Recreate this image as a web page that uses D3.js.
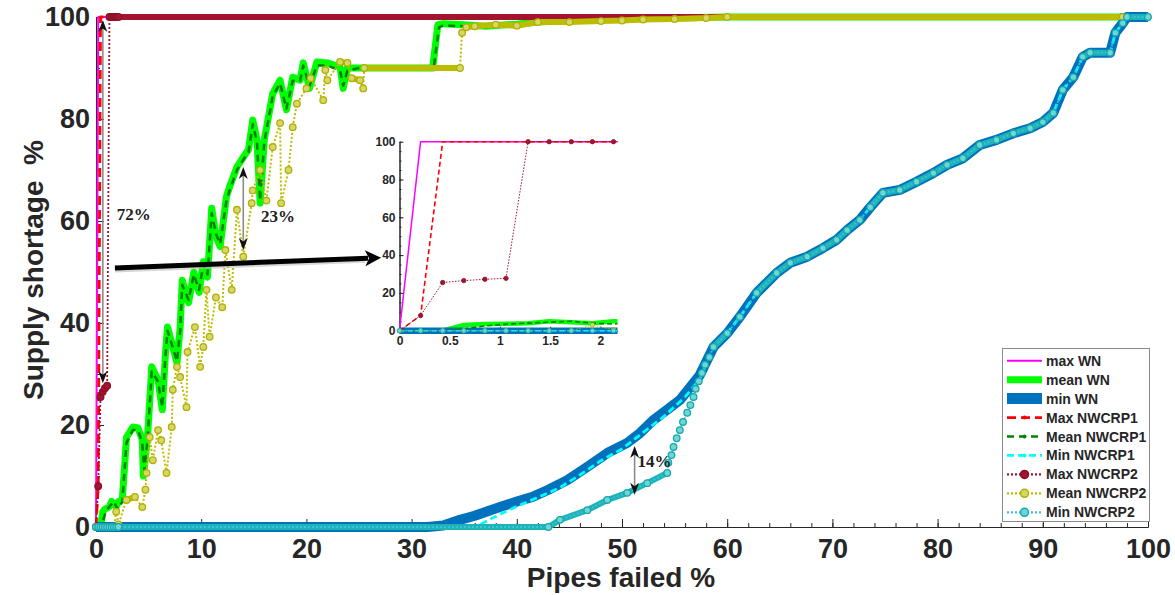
<!DOCTYPE html>
<html>
<head>
<meta charset="utf-8">
<script src="https://cdn.jsdelivr.net/npm/d3@7"></script>
<style>
  body { margin: 0; background: #fff; }
  svg text { font-family: Arial, "Liberation Sans", sans-serif; }
  svg text.note { font-family: "Liberation Serif", "Times New Roman", serif; }
</style>
</head>
<body>
<svg id="chart"></svg>
<script>
const width = 1175, height = 595;

// ---- data: [pipes failed %, supply shortage %] ----
const maxWN = [[0,0],[0.21,100],[97.6,100]];

const meanWN = [[0,0],[0.21,0],[0.43,0],[0.64,3],[0.85,3.5],[1.06,3.7],[1.28,4],[1.49,5],[1.71,4.5],[1.92,4],[2.13,5],
  [2.5,5.3],[2.9,17.6],[3.5,19.6],[4.0,19.4],[4.4,17.1],[4.5,10],[4.9,17.6],[5.3,31.4],[5.9,28.8],[6.3,23],[6.6,34],
  [6.8,39.2],[7.7,32.2],[8.0,39.2],[8.2,48.4],[8.8,44],[9.3,50],[9.8,46],[10.2,52],[10.6,49],[11.0,62.5],[11.4,57],
  [11.8,55],[12.4,64.8],[12.7,66.7],[13.4,70.6],[14.0,72.5],[14.5,74],[14.9,79.8],[15.3,75.9],[15.6,63.5],[16.0,76],
  [16.8,85],[17.5,87.6],[18.1,81.8],[18.7,88.2],[19.4,87.6],[19.7,91],[20.3,86],[21.0,91.2],[22.0,91],[23.2,90.2],
  [23.5,86],[23.9,90],[25.0,90],[32.0,90],[32.5,98.5],[33.0,98.7],[35.0,98.5],[37.0,98.2],[40.0,98.6],[42.0,99],
  [45.0,99.3],[50.0,99.6],[55.0,99.8],[60.0,100],[97.6,100]];

const minTail = [[58.7,35.3],[60,38],[61.2,41.2],[62.8,45.9],[64.7,49.8],[66,51.8],[67.6,53],[69.1,54.7],[70.4,56.3],
  [71.4,58.2],[72.6,60.2],[73.6,62.7],[74.8,65.5],[76.4,66.1],[78,67.7],[79.6,69.4],[80.9,71],[82.4,72.3],[84,74.9],
  [85.6,75.9],[87.2,77.2],[88.8,78.2],[90,79.4],[91,81.2],[91.9,85.7],[92.9,88.2],[93.8,92.2],[94.5,93],[96.4,93],
  [96.9,96.9],[97.6,98.8],[98,100],[100,100]];

const minWNHead = [[0,0],[31.5,0],[33,0.3],[34.6,1.4],[36,2.2],[37.5,3.3],[38.4,3.9],[40,5],[41.5,5.9],[43,7.3],
  [44.8,9.2],[46.7,11.8],[48.6,14.5],[50.5,16.5],[51.7,18.4],[53,21],[54.6,23.5],[55.5,24.9],[57.4,29.8]];

const maxN1 = [[0,0],[0.21,8],[0.43,100],[97.6,100]];

const meanN1 = [[0,0],[0.21,0],[0.43,0],[0.64,1],[0.85,2.5],[1.06,3.5],[1.28,4],[1.49,4.5],[1.71,5],[1.92,4],[2.13,3.5],
  [2.5,5],[2.9,16.5],[3.5,19],[4.0,19],[4.4,16.5],[4.6,11],[4.9,17],[5.3,30.5],[5.9,28.5],[6.3,23.5],[6.6,33.5],
  [6.8,38.5],[7.7,32.5],[8.0,38.5],[8.2,47.5],[8.8,44.5],[9.3,49.5],[9.8,46.5],[10.2,51.5],[10.6,49.5],[11.0,61.5],
  [11.4,57.5],[11.8,55.5],[12.4,64],[12.7,66],[13.4,70],[14.0,72],[14.5,73.5],[14.9,79],[15.3,75.5],[15.6,64],
  [16.0,75.5],[16.8,84.5],[17.5,87],[18.1,82],[18.7,87.5],[19.4,87.5],[19.7,90.5],[20.3,86.5],[21.0,90.5],[22.0,90.5],
  [23.2,89.5],[23.5,86.5],[23.9,89.5],[25.0,90],[32.1,90],[32.6,98],[33.0,98.3],[35.0,98.2],[37.0,98],[40.0,98.4],
  [42.0,98.8],[45.0,99.2],[50.0,99.5],[55.0,99.7],[60.0,100],[97.6,100]];

const minN1Head = [[0,0],[35.5,0],[36.5,0.5],[38.4,2.5],[40.3,4.3],[42,5.8],[44,7.6],[46,10.2],[48,13],[50,15.3],
  [52,18.5],[54,21.7],[56,25.5],[57.4,29]];

const maxN2 = [[0,0],[0.21,8],[0.43,25.5],[0.64,26.5],[0.85,27.2],[1.06,27.7],[1.28,100],[1.49,100],[1.71,100],
  [1.92,100],[2.13,100],[97.6,100]];

const meanN2 = [[0,0],[0.21,0],[0.43,0],[0.64,0],[0.85,0],[1.06,0],[1.28,0],[1.49,0],[1.71,0],[1.92,3],[2.13,0.5],
  [2.9,5.3],[3.7,5.9],[4.4,3.9],[4.7,7.3],[4.8,10.6],[5.1,17.6],[5.4,13.1],[5.9,19],[6.2,17],[6.7,10.6],[7.2,19.6],
  [7.3,26.9],[7.7,31.4],[8.0,29.4],[8.6,23.5],[8.7,34.3],[9.4,39.2],[9.9,31.4],[10.2,35.3],[10.5,46.5],[10.8,37.3],
  [11.4,45],[12.0,43.1],[12.3,54.3],[12.9,46.5],[13.4,62.2],[14.0,53],[14.8,63.5],[14.9,66],[15.6,70],[16.2,64],
  [16.8,74.5],[17.5,79.2],[17.6,63.5],[18.3,70],[18.7,78.4],[19.1,83],[20.0,86],[20.4,88],[21.6,83.7],[21.8,89.6],
  [22.0,87.6],[23.2,91.2],[23.9,91],[24.3,88],[25.1,87.6],[25.4,86],[25.5,90],[34.6,90],[34.8,96.9],[35.2,98],
  [36,98.2],[38,98.5],[40,98.3],[42,99],[45,99],[48,99.2],[50,99.3],[52,99.5],[55,99.6],[58,99.8],[60,100],[97.6,100]];

const minN2Head = [[0,0],[0.21,0],[0.43,0],[0.64,0],[0.85,0],[1.06,0],[1.28,0],[1.49,0],[1.71,0],[1.92,0],[2.13,0],
  [43.0,0],[44.1,1.4],[46.7,3.3],[48.6,5.3],[50.5,6.7],[52.4,8.6],[54.3,10.6],[54.4,12.6],[54.7,14.1],[54.9,15.7],
  [55.2,17.4],[55.5,19],[55.8,20.6],[56.2,22.4],[56.5,23.9],[56.8,25.5],[57.0,27.1],[57.3,28.6],[57.6,30.2],
  [57.9,31.8],[58.3,33.3]];

const seriesNames = ["max WN", "mean WN", "min WN", "Max NWCRP1", "Mean NWCRP1", "Min NWCRP1",
  "Max NWCRP2", "Mean NWCRP2", "Min NWCRP2"];
const seriesData = [maxWN, meanWN, minWNHead.concat(minTail), maxN1, meanN1, minN1Head.concat(minTail),
  maxN2, meanN2, minN2Head.concat(minTail)];

const xTicks = d3.range(0, 101, 10);
const xMinorTicks = d3.range(0, 101, 2);
const yTicks = [0, 20, 40, 60, 80, 100];
const yMinorTicks = d3.range(0, 101, 10);
const insetXTicks = [0, 0.5, 1, 1.5, 2];
const insetYTicks = [0, 20, 40, 60, 80, 100];
const insetYMinorTicks = d3.range(0, 101, 5);

// double arrows with their labels (data coords)
const annotations = [
  { label: "72%", x: 0.65, top: 99.4, bottom: 28.2, tx: 3.6, ty: 61.4 },
  { label: "23%", x: 14.0, top: 70.6, bottom: 54.3, tx: 17.3, ty: 61 },
  { label: "14%", x: 51.2, top: 15.9, bottom: 6.3, tx: 53.1, ty: 12.9 }
];
const bigArrow = { from: [1.8, 50.8], to: [27.1, 52.8] };

// ---- styles ----
const styles = [
  { color: "#ff00ff", w: 2, iw: 1.5 },
  { color: "#00ff00", w: 7, iw: 4.5 },
  { color: "#0072bd", w: 10, iw: 6.5, lw: 11 },
  { color: "#ff0000", w: 2.8, iw: 1.6, dash: "9,5", idash: "5,3" },
  { color: "#008000", w: 2.5, iw: 1.6, dash: "7,5", idash: "5,3" },
  { color: "#00ffff", w: 2.8, iw: 1.6, dash: "7,4", idash: "5,3" },
  { color: "#a2142f", w: 1.8, iw: 1, dash: "2,2", idash: "1.5,1.5", band: "#a2142f", mfill: "#a2142f", mstroke: "#8a1028" },
  { color: "#bdbd00", w: 2, iw: 1, dash: "2,2", idash: "1.5,1.5", band: "#bdbd00", mfill: "#d6d66a", mstroke: "#b0b000" },
  { color: "#40bfe0", w: 1.8, iw: 1, dash: "2,2", idash: "1.5,1.5", band: "#1db4b8", mfill: "#6fd6d6", mstroke: "#14a8ac" }
];
const textColor = "#262626";

const svg = d3.select("#chart").attr("width", width).attr("height", height);

const x = d3.scaleLinear().domain([0, 100]).range([96, 1148]);
const y = d3.scaleLinear().domain([0, 100]).range([527, 17]);
const ix = d3.scaleLinear().domain([0, 2.17]).range([399.5, 617.5]);
const iy = d3.scaleLinear().domain([0, 100]).range([330.7, 141.7]);

// thick strokes on the shallow runs, where the dense markers merge into a band
function bandPath(data, sx, sy) {
  let d = "";
  for (let i = 1; i < data.length; i++) {
    const x0 = sx(data[i - 1][0]), y0 = sy(data[i - 1][1]);
    const x1 = sx(data[i][0]), y1 = sy(data[i][1]);
    if (Math.abs(y1 - y0) <= 1.2 * Math.abs(x1 - x0)) d += `M${x0},${y0}L${x1},${y1}`;
  }
  return d;
}

function drawSeries(g, sx, sy, inset) {
  const line = d3.line().x(d => sx(d[0])).y(d => sy(d[1]));
  seriesData.forEach((data, i) => {
    const s = styles[i];
    if (s.band && !inset) {
      g.append("path").attr("d", bandPath(data, sx, sy))
        .attr("fill", "none").attr("stroke", s.band)
        .attr("stroke-width", 6).attr("stroke-linecap", "round");
    }
    g.append("path").datum(data).attr("d", line)
      .attr("fill", "none").attr("stroke", s.color)
      .attr("stroke-width", inset ? s.iw : s.w)
      .attr("stroke-dasharray", inset ? (s.idash || null) : (s.dash || null))
      .attr("stroke-linejoin", "round");
    if (s.mfill) {
      g.selectAll(null).data(data).enter().append("circle")
        .attr("cx", d => sx(d[0])).attr("cy", d => sy(d[1]))
        .attr("r", inset ? 2.2 : 3.3)
        .attr("fill", s.mfill).attr("stroke", s.mstroke)
        .attr("stroke-width", inset ? 0.8 : 1.3);
    }
  });
}

// ---- main axes ----
function styleAxis(g, size) {
  g.select(".domain").attr("stroke", textColor);
  g.selectAll(".tick line").attr("stroke", textColor);
  g.selectAll("text").attr("fill", textColor).attr("font-weight", "bold").attr("font-size", size);
}

const gx = svg.append("g").attr("transform", "translate(0,527)")
  .call(d3.axisBottom(x).tickValues(xTicks).tickSize(-8).tickSizeOuter(0).tickPadding(12));
styleAxis(gx, 27);
svg.append("g").attr("transform", "translate(0,527)")
  .call(d3.axisBottom(x).tickValues(xMinorTicks).tickSize(-4).tickSizeOuter(0).tickFormat(""))
  .call(g => styleAxis(g, 0));

const gy = svg.append("g").attr("transform", "translate(96,0)")
  .call(d3.axisLeft(y).tickValues(yTicks).tickSize(-8).tickSizeOuter(0).tickPadding(6));
styleAxis(gy, 27);
svg.append("g").attr("transform", "translate(96,0)")
  .call(d3.axisLeft(y).tickValues(yMinorTicks).tickSize(-4).tickSizeOuter(0).tickFormat(""))
  .call(g => styleAxis(g, 0));

svg.append("text").attr("x", 621).attr("y", 587).attr("text-anchor", "middle")
  .attr("font-size", 28).attr("font-weight", "bold").attr("fill", textColor)
  .text("Pipes failed %");
svg.append("text").attr("transform", "translate(43,270) rotate(-90)").attr("text-anchor", "middle")
  .attr("font-size", 28).attr("font-weight", "bold").attr("fill", textColor)
  .style("white-space", "pre").text("Supply shortage  %");

// ---- main series ----
drawSeries(svg.append("g"), x, y, false);

// ---- annotations ----
function head(px, py, dir) { // dir -1 points up, +1 points down
  return `M${px},${py}L${px - 4.5},${py - dir * 12}L${px},${py - dir * 8.5}L${px + 4.5},${py - dir * 12}Z`;
}
const ann = svg.append("g");
annotations.forEach(a => {
  const px = x(a.x), yt = y(a.top), yb = y(a.bottom);
  ann.append("line").attr("x1", px).attr("x2", px).attr("y1", yt + 6).attr("y2", yb - 6)
    .attr("stroke", "#8c8c8c").attr("stroke-width", 1.6);
  ann.append("path").attr("d", head(px, yt, -1)).attr("fill", "#111");
  ann.append("path").attr("d", head(px, yb, 1)).attr("fill", "#111");
  ann.append("text").attr("class", "note").attr("x", x(a.tx)).attr("y", y(a.ty)).attr("dy", "0.35em")
    .attr("text-anchor", "middle")
    .attr("font-weight", "bold").attr("font-size", 17).attr("fill", "#222").text(a.label);
});

// ---- inset ----
const inset = svg.append("g");
inset.append("clipPath").attr("id", "insetClip").append("rect")
  .attr("x", 394).attr("y", 132).attr("width", 223.5).attr("height", 206);
const ixAxis = inset.append("g").attr("transform", `translate(0,${iy(0)})`)
  .call(d3.axisBottom(ix).tickValues(insetXTicks).tickSize(-4).tickSizeOuter(0).tickPadding(6)
    .tickFormat(d3.format("~g")));
styleAxis(ixAxis, 12);
const iyAxis = inset.append("g").attr("transform", `translate(${ix(0)},0)`)
  .call(d3.axisLeft(iy).tickValues(insetYTicks).tickSize(-4).tickSizeOuter(0).tickPadding(4));
styleAxis(iyAxis, 12);
inset.append("g").attr("transform", `translate(${ix(0)},0)`)
  .call(d3.axisLeft(iy).tickValues(insetYMinorTicks).tickSize(-2).tickSizeOuter(0).tickFormat(""))
  .call(g => styleAxis(g, 0));
drawSeries(inset.append("g").attr("clip-path", "url(#insetClip)"), ix, iy, true);

// ---- big arrow to the inset ----
{
  const x0 = x(bigArrow.from[0]), y0 = y(bigArrow.from[1]);
  const x1 = x(bigArrow.to[0]), y1 = y(bigArrow.to[1]);
  const ang = Math.atan2(y1 - y0, x1 - x0);
  const c = Math.cos(ang), s = Math.sin(ang);
  const bx = x1 - 16 * c, by = y1 - 16 * s;
  svg.append("line").attr("x1", x0).attr("y1", y0 + 2).attr("x2", bx).attr("y2", by + 2)
    .attr("stroke", "#bbb").attr("stroke-width", 5).attr("opacity", 0.6);
  svg.append("line").attr("x1", x0).attr("y1", y0).attr("x2", bx + 3 * c).attr("y2", by + 3 * s)
    .attr("stroke", "#000").attr("stroke-width", 5);
  svg.append("path")
    .attr("d", `M${x1},${y1}L${bx + 8 * s},${by - 8 * c}L${bx + 4 * c},${by + 4 * s}L${bx - 8 * s},${by + 8 * c}Z`)
    .attr("fill", "#000");
}

// ---- legend ----
const legend = svg.append("g");
legend.append("rect").attr("x", 1002.5).attr("y", 348.5).attr("width", 147).attr("height", 173)
  .attr("fill", "#fff").attr("stroke", "#8a8a8a").attr("stroke-width", 1);
seriesNames.forEach((name, i) => {
  const s = styles[i], ry = 360.7 + i * 18.95;
  legend.append("line").attr("x1", 1007).attr("x2", 1042).attr("y1", ry).attr("y2", ry)
    .attr("stroke", s.color).attr("stroke-width", s.lw || (s.mfill ? 2.2 : s.w))
    .attr("stroke-dasharray", s.dash || null);
  if (s.mfill) {
    legend.append("circle").attr("cx", 1024.5).attr("cy", ry).attr("r", 4)
      .attr("fill", s.mfill).attr("stroke", s.mstroke).attr("stroke-width", 1.5);
  } else if (s.dash) {
    legend.append("circle").attr("cx", 1024.5).attr("cy", ry).attr("r", 2).attr("fill", s.color);
  }
  legend.append("text").attr("x", 1046).attr("y", ry).attr("dy", "0.36em")
    .attr("font-size", 14).attr("font-weight", "bold").attr("fill", textColor).text(name);
});
</script>
</body>
</html>
